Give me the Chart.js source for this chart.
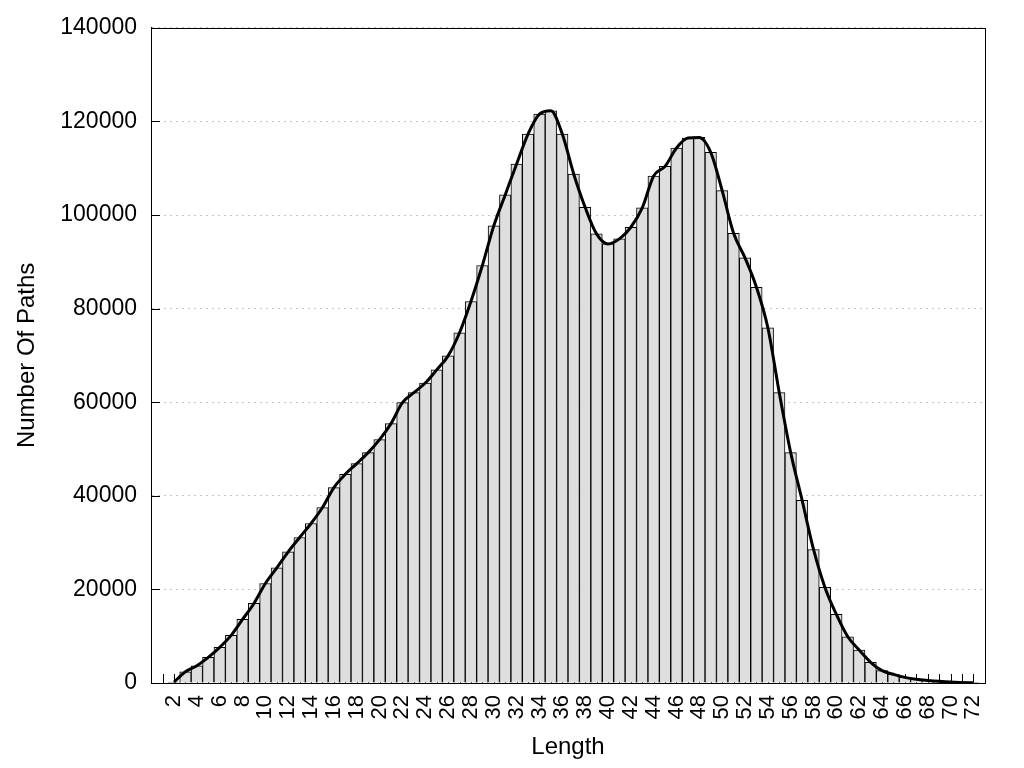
<!DOCTYPE html>
<html>
<head>
<meta charset="utf-8">
<title>Number Of Paths by Length</title>
<script src="https://cdn.jsdelivr.net/npm/chart.js@4.4.1/dist/chart.umd.min.js"></script>
<style>
    html, body { margin: 0; padding: 0; background: #fff; }
    #wrap { width: 1024px; height: 768px; }
</style>
</head>
<body>
<div id="wrap"><canvas id="pathChart" width="1024" height="768"></canvas></div>
<script>
// path lengths (x categories)
const lengths = [2, 3, 4, 5, 6, 7, 8, 9, 10, 11, 12, 13, 14, 15, 16, 17, 18, 19, 20, 21,
    22, 23, 24, 25, 26, 27, 28, 29, 30, 31, 32, 33, 34, 35, 36, 37, 38, 39, 40, 41,
    42, 43, 44, 45, 46, 47, 48, 49, 50, 51, 52, 53, 54, 55, 56, 57, 58, 59, 60, 61,
    62, 63, 64, 65, 66, 67, 68, 69, 70, 71, 72];

// number of paths per length
const pathCounts = [200, 2410, 3690, 5480, 7620, 10180, 13590, 17000, 21270, 24600,
    28020, 31090, 34080, 37490, 41760, 44600, 46880, 49230, 52000, 55420,
    59900, 62030, 64090, 66900, 69900, 74840, 81520, 89200, 97670, 104290,
    110900, 117300, 121570, 122280, 117300, 108770, 101640, 95960, 93830, 94900,
    97380, 101510, 108340, 110390, 114320, 116450, 116580, 113380, 105200, 96090,
    90840, 84570, 75910, 62030, 49230, 39050, 28530, 20420, 14660, 9880,
    7040, 4420, 2630, 1860, 1200, 800, 550, 350, 200, 120, 60];

const xTickLabels = [2, 4, 6, 8, 10, 12, 14, 16, 18, 20, 22, 24, 26, 28, 30, 32, 34, 36,
    38, 40, 42, 44, 46, 48, 50, 52, 54, 56, 58, 60, 62, 64, 66, 68, 70, 72];
const yTickLabels = [0, 20000, 40000, 60000, 80000, 100000, 120000, 140000];

(function() {
    const FONT = "'Liberation Sans', Arial, sans-serif";
    const points = lengths.map((len, i) => ({ x: len, y: pathCounts[i] }));

    // small inward tick marks, drawn under the bars like gnuplot's "tics back"
    const innerTicks = {
        id: 'innerTicks',
        beforeDatasetsDraw(chart) {
            const { ctx, chartArea, scales } = chart;
            ctx.save();
            ctx.strokeStyle = '#000';
            ctx.lineWidth = 1;
            ctx.beginPath();
            for (let v = scales.x.min; v <= scales.x.max; v++) {
                const px = Math.round(scales.x.getPixelForValue(v)) + 0.5;
                ctx.moveTo(px, chartArea.bottom);
                ctx.lineTo(px, chartArea.bottom - 9);
            }
            yTickLabels.forEach(v => {
                const py = Math.round(scales.y.getPixelForValue(v)) + 0.5;
                ctx.moveTo(chartArea.left, py);
                ctx.lineTo(chartArea.left + 9, py);
            });
            ctx.stroke();
            ctx.restore();
        },
        afterDraw(chart) {
            const { ctx, chartArea } = chart;
            ctx.save();
            ctx.strokeStyle = '#000';
            ctx.lineWidth = 1;
            ctx.strokeRect(Math.round(chartArea.left) + 0.5, Math.round(chartArea.top) + 0.5,
                Math.round(chartArea.width), Math.round(chartArea.height));
            ctx.restore();
        }
    };

    function initChart() {
        const ctx = document.getElementById('pathChart').getContext('2d');
        return new Chart(ctx, {
            type: 'bar',
            data: {
                datasets: [{
                    type: 'line',
                    label: 'curve',
                    data: points,
                    borderColor: '#000',
                    borderWidth: 3,
                    pointRadius: 0,
                    tension: 0.4,
                    cubicInterpolationMode: 'monotone',
                    fill: false,
                    order: 0
                }, {
                    type: 'bar',
                    label: 'Number Of Paths',
                    data: points,
                    backgroundColor: '#dedede',
                    borderColor: '#000',
                    borderWidth: 1,
                    barPercentage: 1,
                    categoryPercentage: 1,
                    grouped: false,
                    order: 1
                }]
            },
            options: {
                responsive: false,
                animation: false,
                events: [],
                layout: { padding: { left: 0, top: 27, right: 39, bottom: 0 } },
                plugins: { legend: { display: false }, tooltip: { enabled: false } },
                scales: {
                    x: {
                        type: 'linear',
                        min: 1,
                        max: 72,
                        grid: { display: false, drawTicks: false },
                        border: { color: '#000' },
                        afterBuildTicks: axis => { axis.ticks = xTickLabels.map(v => ({ value: v })); },
                        afterFit: axis => { axis.height = 85; },
                        ticks: {
                            autoSkip: false,
                            minRotation: 90,
                            maxRotation: 90,
                            padding: 12,
                            color: '#000',
                            font: { family: FONT, size: 22 }
                        },
                        title: {
                            display: true,
                            text: 'Length',
                            color: '#000',
                            padding: { top: 0, bottom: 6 },
                            font: { family: FONT, size: 24 }
                        }
                    },
                    y: {
                        min: 0,
                        max: 140000,
                        afterBuildTicks: axis => { axis.ticks = yTickLabels.map(v => ({ value: v })); },
                        afterFit: axis => { axis.width = 151; },
                        grid: {
                            color: '#c4c4c4',
                            drawTicks: false,
                            lineWidth: 1
                        },
                        border: { color: '#000', dash: [2, 4] },
                        ticks: {
                            padding: 14,
                            color: '#000',
                            font: { family: FONT, size: 23 },
                            callback: v => String(v)
                        },
                        title: {
                            display: true,
                            text: 'Number Of Paths',
                            color: '#000',
                            padding: { top: 13, bottom: 0 },
                            font: { family: FONT, size: 24 }
                        }
                    }
                }
            },
            plugins: [innerTicks]
        });
    }

    initChart();
})();
</script>
</body>
</html>
